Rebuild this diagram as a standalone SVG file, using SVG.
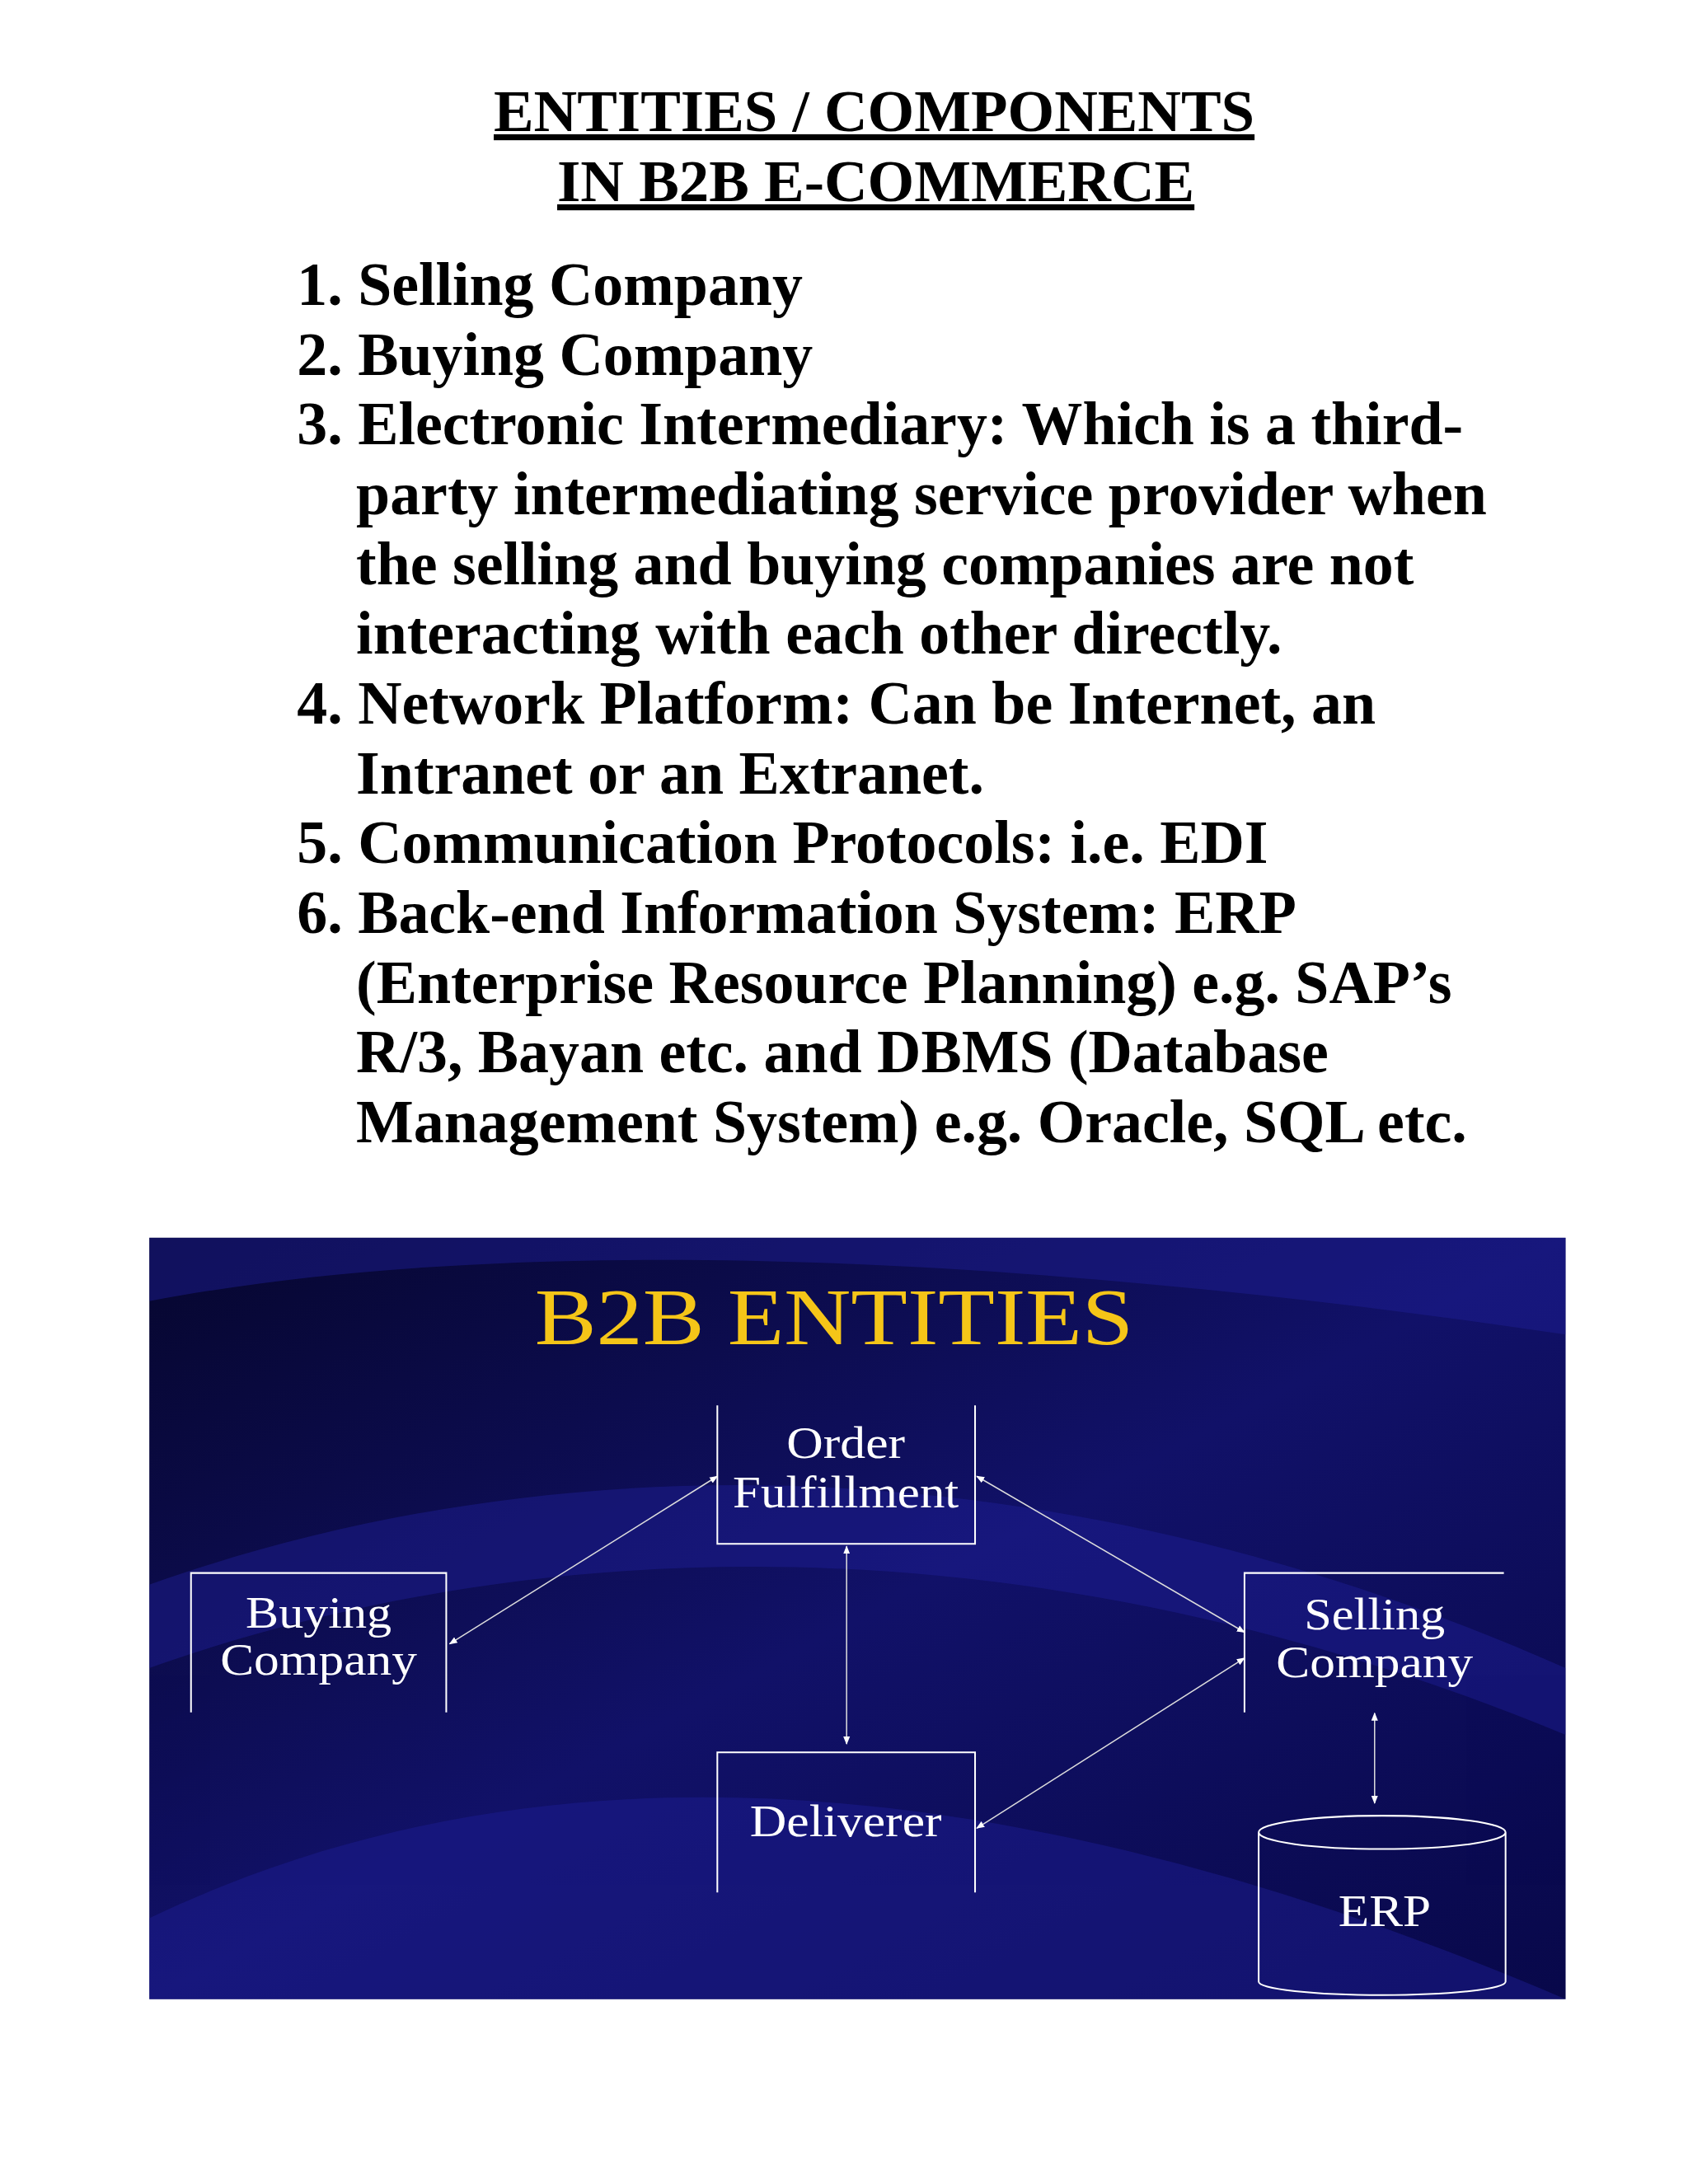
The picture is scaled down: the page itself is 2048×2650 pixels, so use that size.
<svg xmlns="http://www.w3.org/2000/svg" width="2048" height="2650" viewBox="0 0 2048 2650">
<defs>
<style>
.h{font-family:"Liberation Serif",serif;font-weight:bold;font-size:72px;text-anchor:middle;text-decoration:underline}
.l{font-family:"Liberation Serif",serif;font-weight:bold;font-size:73px}
.n{font-family:"Liberation Serif",serif;font-size:54px;fill:#fff;text-anchor:middle}
.b{fill:none;stroke:#fff;stroke-width:2}
.c{stroke:#ddd;stroke-width:1.5;fill:none;marker-start:url(#a);marker-end:url(#a)}
</style>
<marker id="a" viewBox="0 0 10 10" refX="9" refY="5" markerWidth="10" markerHeight="10" markerUnits="userSpaceOnUse" orient="auto-start-reverse"><path d="M0,1 L10,5 L0,9 z" fill="#fff"/></marker>
<linearGradient id="bg" x1="0" y1="0" x2="1" y2="1"><stop offset="0" stop-color="#06062e"/><stop offset="0.5" stop-color="#111168"/><stop offset="1" stop-color="#08084a"/></linearGradient>
<clipPath id="cp"><rect x="179" y="1484" width="1698" height="913"/></clipPath>
</defs>
<rect width="2048" height="2650" fill="#fff"/>
<g transform="scale(1.012)">
<text class="h" x="1048" y="157">ENTITIES / COMPONENTS </text>
<text class="h" x="1050" y="241">IN B2B E-COMMERCE</text>
<g class="l">
<text x="356" y="366">1. Selling Company</text>
<text x="356" y="450">2. Buying Company</text>
<text x="356" y="533">3. Electronic Intermediary: Which is a third-</text>
<text x="427" y="617">party intermediating service provider when</text>
<text x="427" y="701">the selling and buying companies are not</text>
<text x="427" y="784">interacting with each other directly.</text>
<text x="356" y="868">4. Network Platform: Can be Internet, an</text>
<text x="427" y="952">Intranet or an Extranet.</text>
<text x="356" y="1035">5. Communication Protocols: i.e. EDI</text>
<text x="356" y="1119">6. Back-end Information System: ERP</text>
<text x="427" y="1203">(Enterprise Resource Planning) e.g. SAP’s</text>
<text x="427" y="1286">R/3, Bayan etc. and DBMS (Database</text>
<text x="427" y="1370">Management System) e.g. Oracle, SQL etc.</text>
</g>
<g id="panel">
<rect x="179" y="1484" width="1698" height="913" fill="url(#bg)"/>
<g clip-path="url(#cp)" fill="#1e1e96" opacity="0.45">
<path d="M179,1560 C600,1480 1200,1500 1877,1600 L1877,1484 L179,1484 z"/>
<path d="M179,1900 C600,1750 1200,1700 1877,2000 L1877,2080 C1200,1800 600,1850 179,2000 z"/>
<path d="M179,2300 C700,2050 1300,2150 1877,2397 L179,2397 z"/>
</g>
<text x="1000" y="1612" font-family="Liberation Serif,serif" font-size="96" fill="#f5c518" text-anchor="middle" textLength="718" lengthAdjust="spacingAndGlyphs">B2B ENTITIES</text>
</g>
<g id="order"><path class="b" d="M860,1685 V1851 H1169 V1685"/><text class="n" x="1014" y="1748" textLength="142" lengthAdjust="spacingAndGlyphs">Order</text><text class="n" x="1014" y="1807" textLength="271" lengthAdjust="spacingAndGlyphs">Fulfillment</text></g>
<g id="buying"><path class="b" d="M229,2053 V1886 H535 V2053"/><text class="n" x="382" y="1952" textLength="175" lengthAdjust="spacingAndGlyphs">Buying</text><text class="n" x="382" y="2008" textLength="236" lengthAdjust="spacingAndGlyphs">Company</text></g>
<g id="selling"><path class="b" d="M1492,2053 V1886 H1803"/><text class="n" x="1648" y="1954" textLength="169" lengthAdjust="spacingAndGlyphs">Selling</text><text class="n" x="1648" y="2011" textLength="236" lengthAdjust="spacingAndGlyphs">Company</text></g>
<g id="deliverer"><path class="b" d="M860,2269 V2101 H1169 V2269"/><text class="n" x="1014" y="2202" textLength="230" lengthAdjust="spacingAndGlyphs">Deliverer</text></g>
<g id="erp"><path class="b" d="M1509,2197 A148,20 0 0 1 1805,2197 A148,20 0 0 1 1509,2197 V2376 A148,16 0 0 0 1805,2376 V2197"/><text class="n" x="1660" y="2309" textLength="111" lengthAdjust="spacingAndGlyphs">ERP</text></g>
<g id="connectors">
<line class="c" x1="539" y1="1971" x2="860" y2="1770"/>
<line class="c" x1="1171" y1="1770" x2="1492" y2="1957"/>
<line class="c" x1="1015" y1="1854" x2="1015" y2="2091"/>
<line class="c" x1="1492" y1="1988" x2="1171" y2="2192"/>
<line class="c" x1="1648" y1="2054" x2="1648" y2="2162"/>
</g>
</g>
</svg>
